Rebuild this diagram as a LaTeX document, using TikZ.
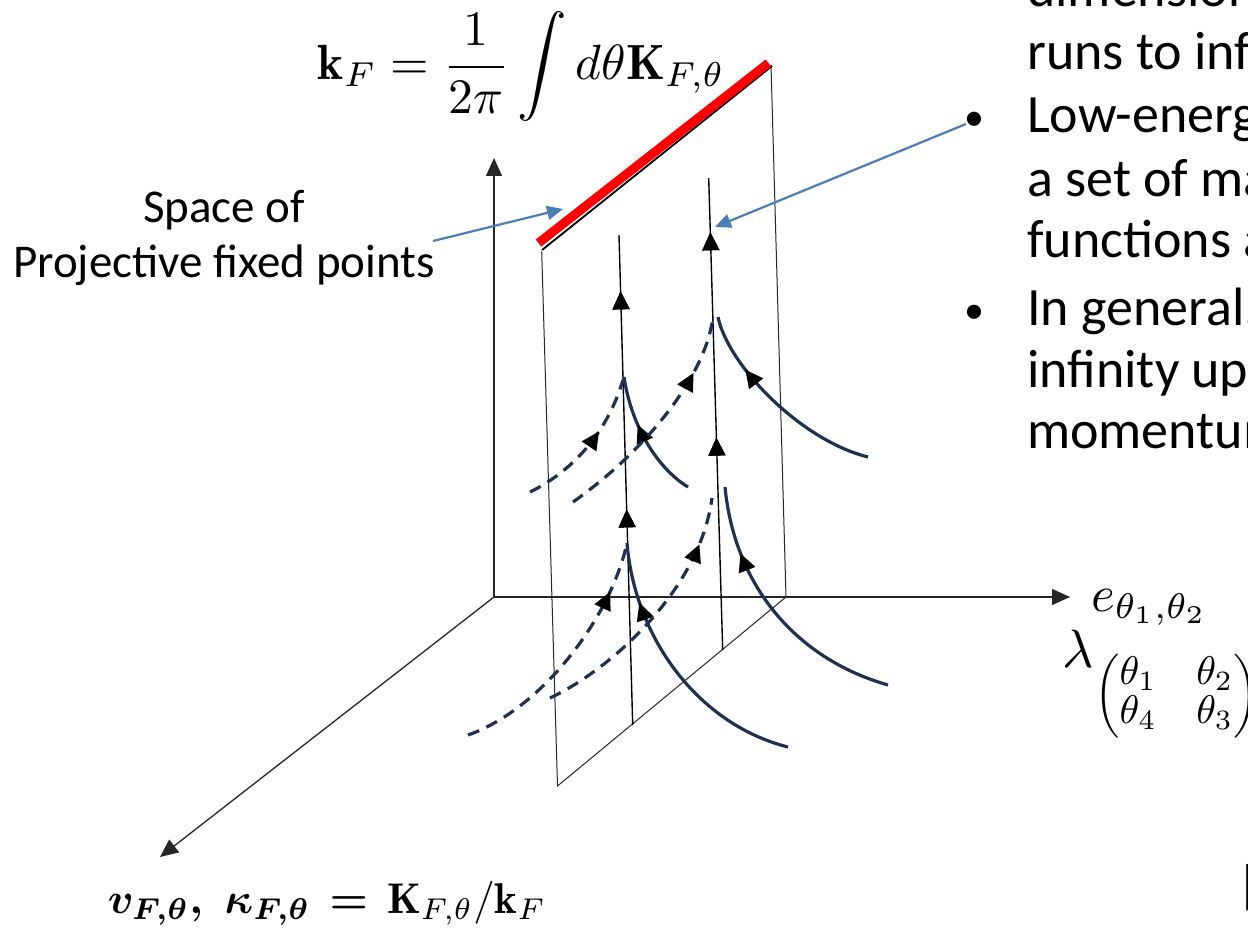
\documentclass[tikz,border=0pt]{standalone}
\usepackage{amsmath,bm}
\usepackage{graphicx}
\usepackage{fontspec}
\newfontfamily\calib{Carlito}
\usetikzlibrary{arrows.meta,decorations.markings}
\definecolor{navy}{HTML}{1F3153}
\definecolor{calblue}{HTML}{4A7EBB}
\tikzset{
  axisline/.style={draw=black!85, line width=1.3pt},
  planeedge/.style={draw=black!85, line width=1pt},
  flowline/.style={draw=black, line width=1.4pt},
  solidflow/.style={draw=navy, line width=3.2pt},
  dashflow/.style={draw=navy, line width=3.2pt, dash pattern=on 12pt off 8pt},
  callout/.style={draw=calblue, line width=2.2pt, -{Triangle[length=16pt,width=14pt]}},
  axtip/.style={-{Triangle[length=18pt,width=16pt]}},
  midtip/.style={postaction={decorate}, decoration={markings, mark=at position #1 with {\arrow[black,solid]{Triangle[length=18pt,width=17pt]}}}},
  bodytext/.style={font=\calib\fontsize{54}{63}\selectfont, inner sep=0, anchor=base west},
  bullettext/.style={font=\calib\fontsize{40}{48}\selectfont, inner sep=0, anchor=base west},
}
\begin{document}
\begin{tikzpicture}[x=1pt,y=-1pt]
\useasboundingbox (0,0) rectangle (1248,928);
\clip (0,0) rectangle (1248,928);
\fill[white] (0,0) rectangle (1248,928);

% axes
\coordinate (O) at (494,597);
\coordinate (yend) at (494,158);
\coordinate (xend) at (1070,597);
\coordinate (zend) at (160,857);
\draw[axisline,axtip] (O) -- (yend);
\draw[axisline,axtip] (O) -- (xend);
\draw[axisline,axtip] (O) -- (zend);

% plane
\coordinate (pTL) at (541.7,251.7);
\coordinate (pBL) at (557.5,786);
\coordinate (pBR) at (786,597);
\coordinate (pTR) at (771,65);
\draw[planeedge] (pTL) -- (pBL) -- (pBR) -- (pTR);
\draw[black, line width=1.8pt] (542,250) -- (772,66);
\draw[red, line width=9pt] (538.5,243) -- (768.5,63);

% vertical flow lines
\coordinate (Abot) at (632.7,725);
\coordinate (Atop) at (619,235);
\coordinate (Bbot) at (722.7,650);
\coordinate (Btop) at (708.7,178);
\draw[flowline, midtip=0.44, midtip=0.885] (Abot) -- (Atop);
\draw[flowline, midtip=0.45, midtip=0.885] (Bbot) -- (Btop);

% upper flow curves
\coordinate (fA1) at (624,377);
\coordinate (fB1) at (718,317);
\coordinate (fB1d) at (713,317);
\draw[solidflow, midtip=0.62] (688,487) .. controls (660,470) and (632,430) .. (fA1);
\draw[dashflow, midtip=0.62] (530,492) .. controls (565,475) and (605,440) .. (623,380);
\draw[solidflow, midtip=0.72] (868,457) .. controls (800,440) and (728,365) .. (fB1);
\draw[dashflow, midtip=0.75] (573,502) .. controls (640,455) and (705,380) .. (fB1d);

% lower flow curves
\coordinate (fA2) at (627,543);
\draw[solidflow, midtip=0.78] (788,747) .. controls (700,725) and (635,640) .. (fA2);
\draw[dashflow, midtip=0.8] (468,735) .. controls (540,710) and (610,620) .. (fA2);
\draw[solidflow, midtip=0.75] (888,685) .. controls (800,660) and (735,590) .. (725,487);
\draw[dashflow, midtip=0.82] (550,698) .. controls (610,670) and (700,590) .. (712,498);

% formulas
\node[scale=4.95, anchor=west, inner sep=0] (kF) at (317,67)
  {$\displaystyle \mathbf{k}_F = \frac{1}{2\pi}\int d\theta\mathbf{K}_{F,\theta}$};
\node[scale=5.1, anchor=base west, inner sep=0] (elab) at (1090,611) {$e_{\theta_1,\theta_2}$};
\node[scale=4, anchor=west, inner sep=0] (lam) at (1062,684)
  {\renewcommand{\arraystretch}{0.78}$\scalebox{1.35}{$\lambda$}_{\begin{pmatrix}\theta_1&\theta_2\\\theta_4&\theta_3\end{pmatrix}}$};
\node[scale=4.3, anchor=base west, inner sep=0] (vk) at (107,913)
  {$\boldsymbol{v}_{\boldsymbol{F,\theta}}\boldsymbol{,}\ \boldsymbol{\kappa}_{\boldsymbol{F,\theta}}\,\boldsymbol{=}\,\mathbf{K}_{F,\theta}/\mathbf{k}_F$};

% left label
\node[font=\calib\fontsize{47}{55}\selectfont, align=center, inner sep=0] (space) at (224,238)
  {Space of\\Projective fixed points};
\coordinate (spaceend) at (433,241);
\draw[callout] (spaceend) -- (563,209);

% right text
\node[bodytext] (t0) at (1027,7) {dimension};
\node[bodytext] (t1) at (1027,70) {runs to inf};
\node[bullettext] (b1) at (964,131) {•};
\node[bodytext] (t2) at (1027,133) {Low-energy};
\node[bodytext] (t3) at (1027,197) {a set of ma};
\node[bodytext] (t4) at (1027,258) {functions a};
\node[bullettext] (b2) at (964,323) {•};
\node[bodytext] (t5) at (1027,325) {In general,};
\node[bodytext] (t6) at (1027,387) {infinity up};
\node[bodytext] (t7) at (1027,448) {momentum};
\node[bodytext] (br) at (1242,903) {[};
\coordinate (calloutR) at (966,124);
\draw[callout] (calloutR) -- (715,227);
\end{tikzpicture}
\end{document}
